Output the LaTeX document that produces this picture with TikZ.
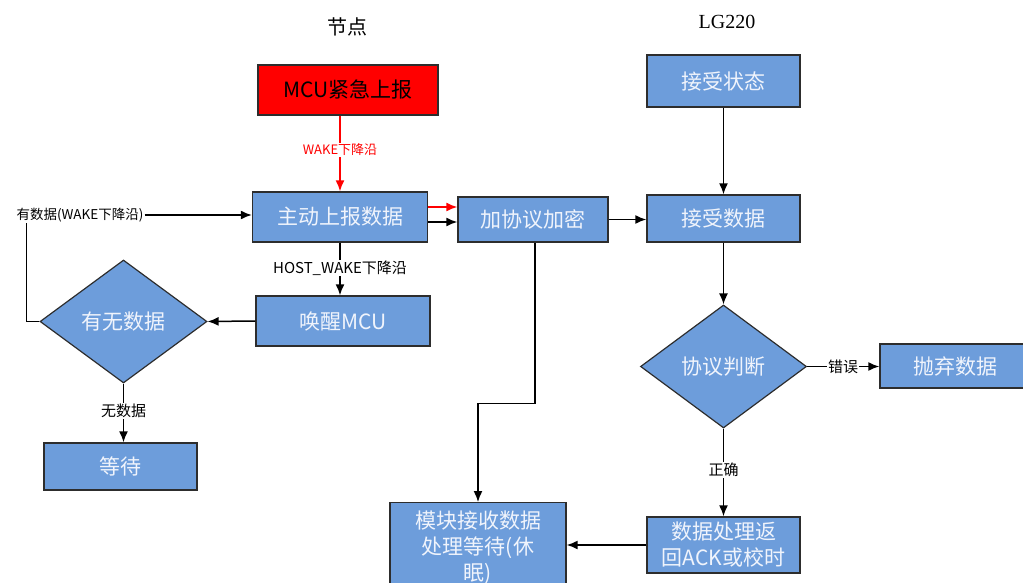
\documentclass[tikz,border=0pt]{standalone}
\usepackage{fontspec}
\setmainfont{Noto Sans CJK SC}
\newfontfamily\titlefont{Liberation Serif}
\usetikzlibrary{shapes.geometric,arrows.meta}

\definecolor{boxblue}{RGB}{109,157,219}
\definecolor{boxtext}{RGB}{240,244,252}
\definecolor{edgegray}{RGB}{45,45,45}

\tikzset{
	procbox/.style={draw=edgegray, line width=1.4pt, fill=boxblue, text=boxtext,
		font=\fontsize{21}{26}\selectfont, inner sep=0pt, align=center},
	decbox/.style={diamond, draw=edgegray, line width=1.2pt, fill=boxblue, text=boxtext,
		font=\fontsize{21}{26}\selectfont, inner sep=0pt},
	arr/.style={draw=black, line width=1.5pt, -{Latex[length=11pt,width=9pt]}},
	edgelbl/.style={fill=white, inner sep=1pt, font=\fontsize{15}{18}\selectfont},
}

\begin{document}
\begin{tikzpicture}[x=1pt, y=-1pt]
	\useasboundingbox (0,0) rectangle (1023,583);

	% titles
	\node[font=\fontsize{20}{24}\selectfont] (tnode) at (347,27) {节点};
	\node[font=\titlefont\fontsize{20}{24}\selectfont] (tlg) at (727,22) {LG220};

	% node side
	\node[procbox, fill=red, text=black, minimum width=180pt, minimum height=50pt] (mcu) at (348,90) {MCU紧急上报};
	\node[procbox, minimum width=175pt, minimum height=50pt] (report) at (340,217) {主动上报数据};
	\node[procbox, minimum width=174pt, minimum height=50pt] (wake) at (343,321) {唤醒MCU};
	\node[decbox, minimum width=167pt, minimum height=123pt] (havedata) at (123.5,321.5) {有无数据};
	\node[procbox, minimum width=153pt, minimum height=47pt] (waitn) at (120.5,466.5) {等待};
	\node[font=\fontsize{13.5}{16}\selectfont, inner sep=1pt] (yeslbl) at (80,215) {有数据(WAKE下降沿)};
	\node[procbox, minimum width=150pt, minimum height=45pt] (encrypt) at (533,219.5) {加协议加密};
	\node[procbox, anchor=north, minimum width=176pt, minimum height=90pt] (module) at (478,502) {模块接收数据\\处理等待(休\\眠)};

	% LG220 side
	\node[procbox, minimum width=153pt, minimum height=52pt] (recvstate) at (723.5,81) {接受状态};
	\node[procbox, minimum width=153pt, minimum height=47pt] (recvdata) at (723.5,218.5) {接受数据};
	\node[decbox, minimum width=166pt, minimum height=123pt] (judge) at (723.5,366.5) {协议判断};
	\node[procbox, minimum width=150pt, minimum height=44pt] (drop) at (955,366) {抛弃数据};
	\node[procbox, minimum width=153pt, minimum height=56pt] (ack) at (723.5,545) {数据处理返\\回ACK或校时};

	% connectors, node side
	\draw[arr, draw=red, red] (mcu.south -| report.north) -- node[edgelbl, text=red, font=\fontsize{13}{15}\selectfont, pos=0.45] {WAKE下降沿} (report.north);
	\draw[arr] (report.south) -- node[edgelbl, pos=0.48] {HOST\_WAKE下降沿} (report.south |- wake.north);
	\draw[arr] (wake.west) -- (havedata.east);
	\draw[arr] (havedata.south) -- node[edgelbl, pos=0.47] {无数据} (havedata.south |- waitn.north);
	\draw[line width=1.5pt] (havedata.west) -- ++(-13,0) coordinate (back) -- (back |- yeslbl.south);
	\draw[arr] (yeslbl.east) -- (yeslbl.east -| report.west);
	\draw[arr, draw=red, red] ([yshift=10pt]report.east) -- ([yshift=10pt]report.east -| encrypt.west);
	\draw[arr] ([yshift=-5pt]report.east) -- ([yshift=-5pt]report.east -| encrypt.west);
	\draw[arr] ([xshift=2pt]encrypt.south) -- ++(0,161) -| (module.north);

	% connectors, LG220 side
	\draw[arr] (encrypt.east) -- (encrypt.east -| recvdata.west);
	\draw[arr] (recvstate.south) -- (recvdata.north);
	\draw[arr] (recvdata.south) -- (judge.north);
	\draw[arr] (judge.east) -- node[edgelbl, pos=0.5] {错误} (judge.east -| drop.west);
	\draw[arr] (judge.south) -- node[edgelbl, pos=0.47] {正确} (ack.north);
	\draw[arr] (ack.west) -- (ack.west -| module.east);
\end{tikzpicture}
\end{document}
